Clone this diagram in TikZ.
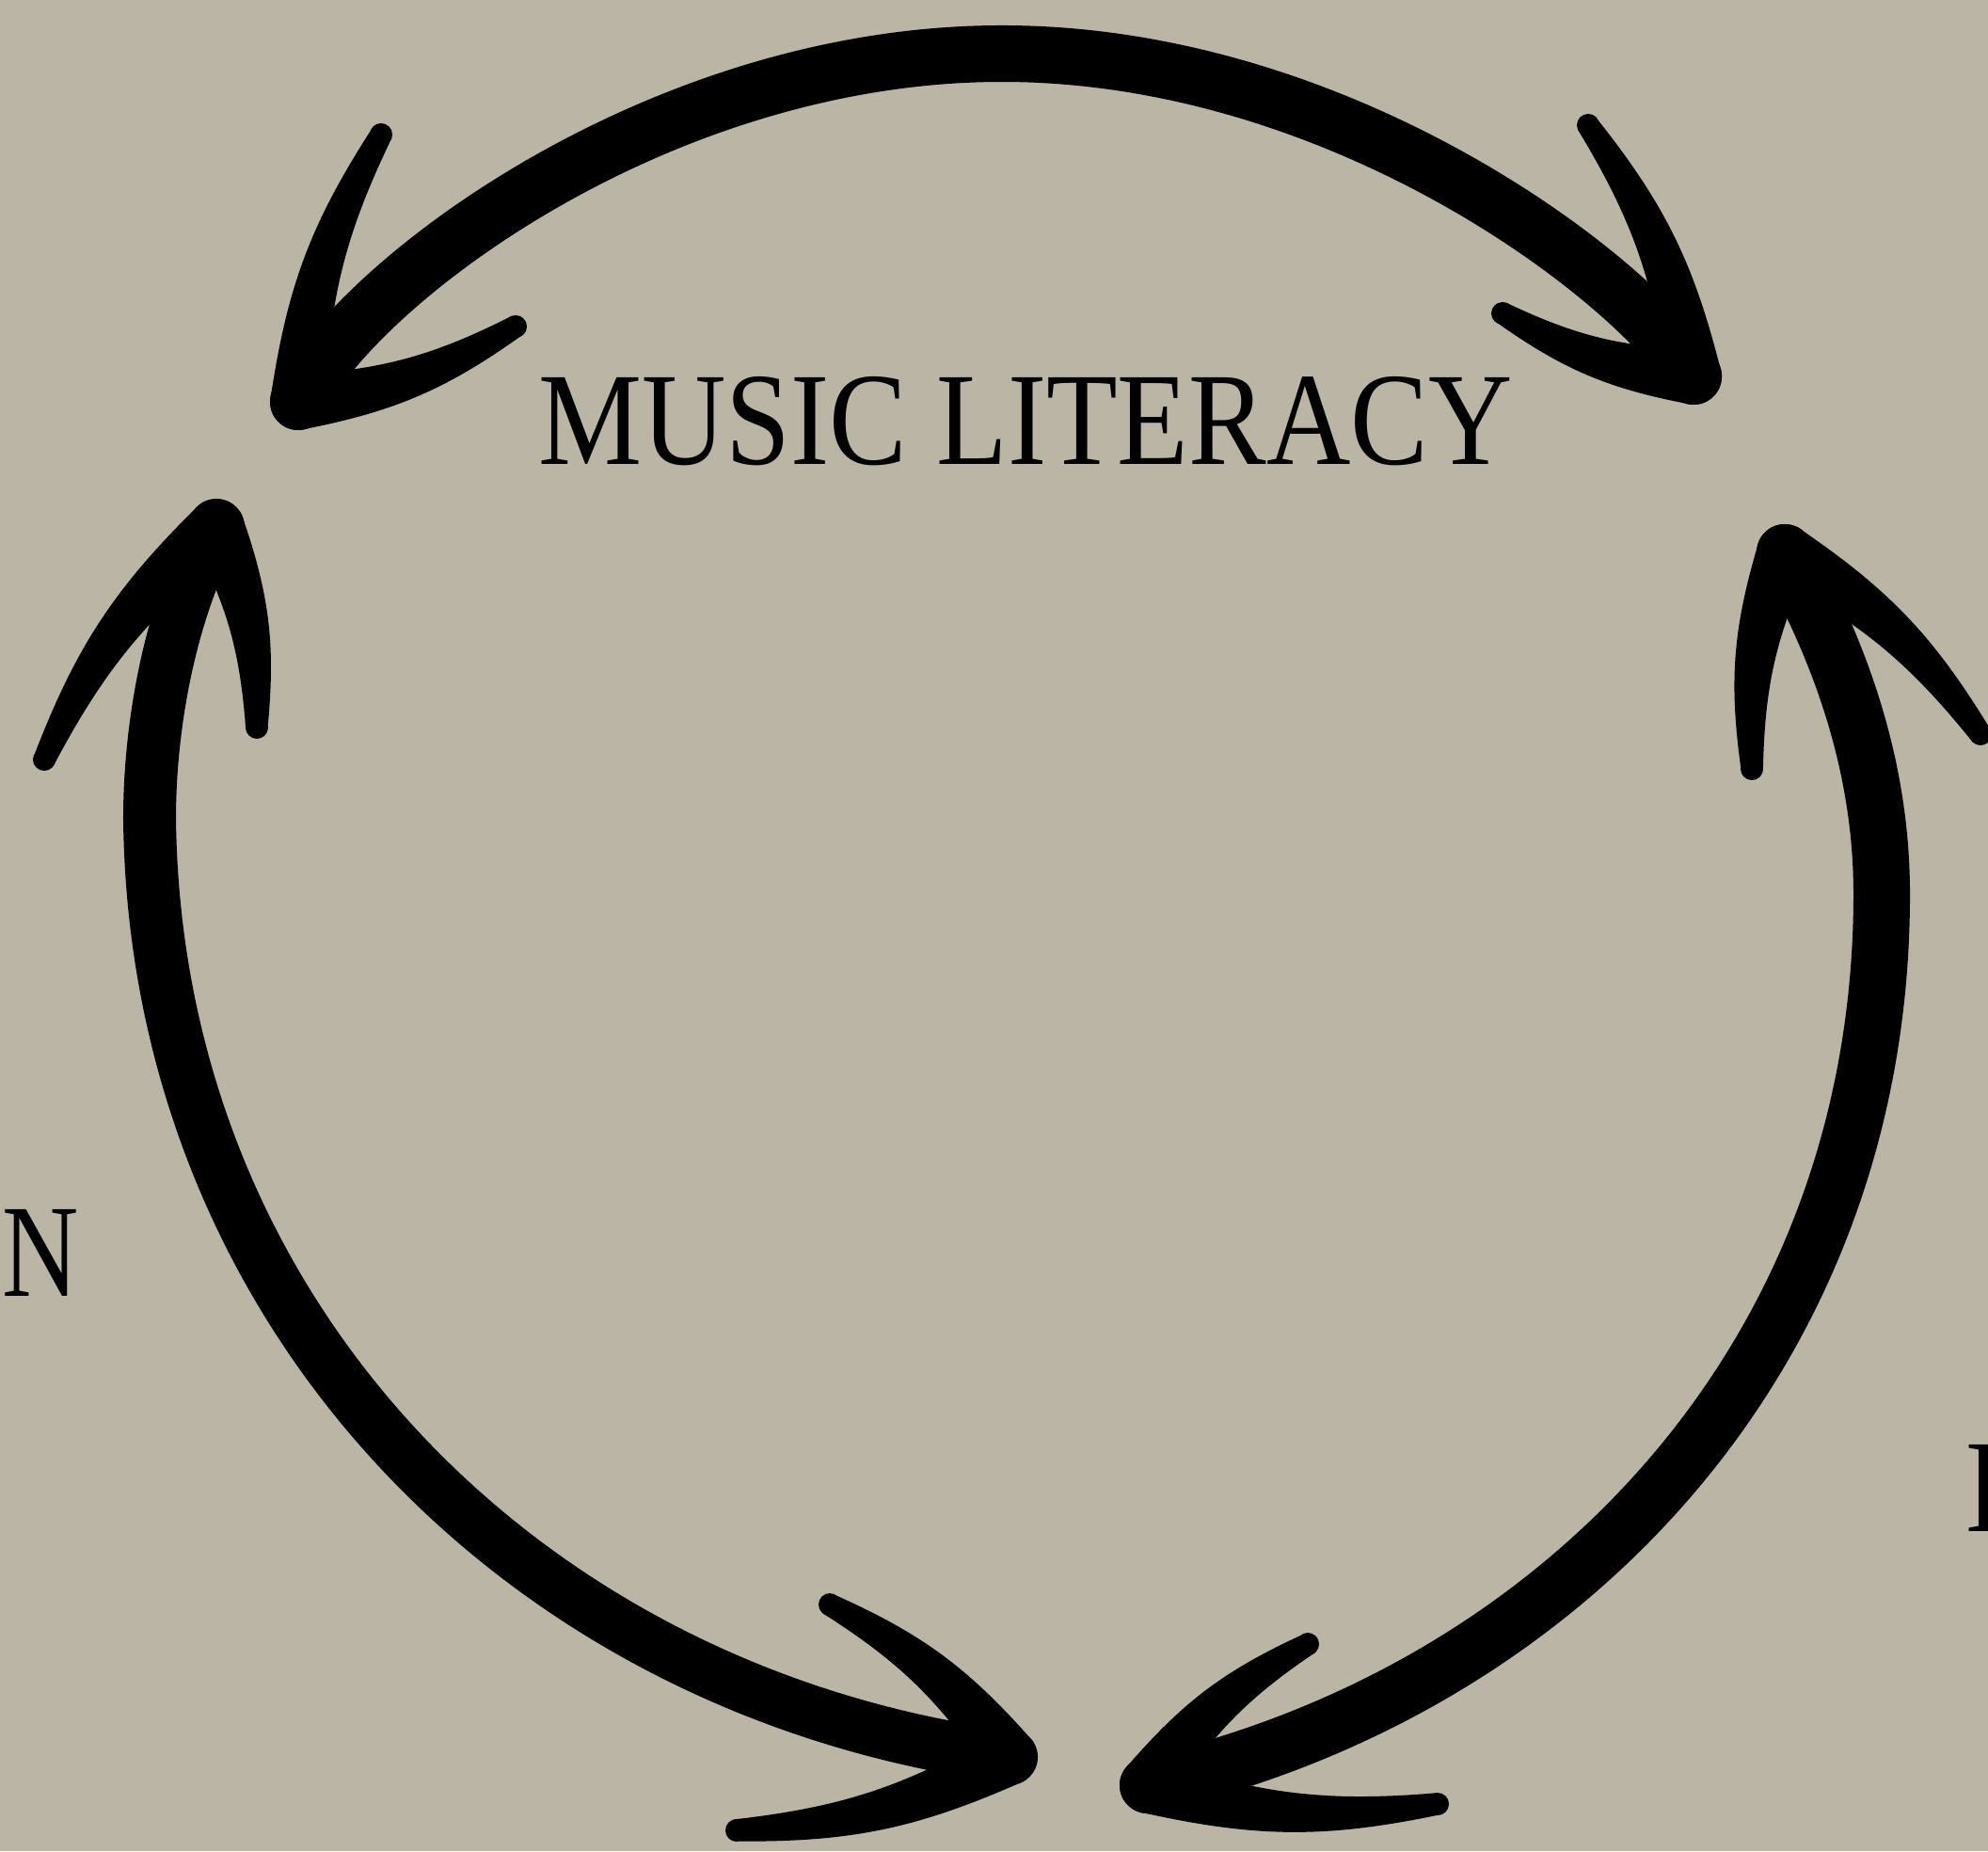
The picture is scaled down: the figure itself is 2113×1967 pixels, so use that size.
\documentclass[tikz,border=0pt]{standalone}
\usepackage{fontspec}
\setmainfont{Liberation Serif}
\usepackage{graphicx}
\usepackage{tikz}
\usetikzlibrary{calc}
\definecolor{PaperBeige}{HTML}{BAB5A4}
\definecolor{InkBlack}{HTML}{000000}
\tikzset{
  % Brush shaft
  shaft/.style={draw=InkBlack,line width=0.6cm,line cap=round,line join=round},
  % Labels
  lbl/.style={inner sep=0pt,text=InkBlack,font=\fontsize{40}{40}\selectfont}
}
% tapered barb from tip #1 to end #2, bowed by #3 degrees
\newcommand\barb[3]{%
  \fill[InkBlack] ($(#1)!0.3cm!90:(#2)$) to[bend left=#3] ($(#2)!0.12cm!-90:(#1)$)
    -- ($(#2)!0.12cm!90:(#1)$) to[bend right=#3] ($(#1)!0.3cm!-90:(#2)$) -- cycle;
  \fill[InkBlack] (#2) circle (0.12cm);}
\newcommand\tipblob[1]{\fill[InkBlack] (#1) circle (0.3cm);}

\begin{document}
\begin{tikzpicture}[x=0.01cm,y=-0.01cm]
  \fill[PaperBeige] (0,0) rectangle (2113,1967);
  \clip (0,0) rectangle (2113,1967);

  % arrow tips
  \coordinate (topL) at (317,427);
  \coordinate (topR) at (1800,400);
  \coordinate (leftT) at (230,560);
  \coordinate (leftB) at (1073,1867);
  \coordinate (rightT) at (1897,587);
  \coordinate (rightB) at (1220,1897);
  \coordinate (apex) at (1065,57);
  \coordinate (leftmost) at (159,870);
  \coordinate (rightmost) at (2000,950);

  % top arrow
  \draw[shaft] (topL) .. controls (380,300) and (700,57) .. (apex)
    .. controls (1430,57) and (1740,300) .. (topR);
  \tipblob{topL} \barb{topL}{405,143}{12} \barb{topL}{548,347}{-12}
  \tipblob{topR} \barb{topR}{1688,133}{-12} \barb{topR}{1597,333}{12}

  % left arrow
  \draw[shaft,line width=0.56cm] (leftT) .. controls (185,640) and (159,760) .. (leftmost)
    .. controls (165,1400) and (560,1800) .. (leftB);
  \tipblob{leftT} \barb{leftT}{47,807}{-12} \barb{leftT}{273,773}{12}
  \tipblob{leftB} \barb{leftB}{882,1705}{-12} \barb{leftB}{783,1945}{12}

  % right arrow
  \draw[shaft] (rightT) .. controls (1960,700) and (2000,820) .. (rightmost)
    .. controls (2000,1450) and (1650,1800) .. (rightB);
  \tipblob{rightT} \barb{rightT}{1862,817}{-12} \barb{rightT}{2105,780}{12}
  \tipblob{rightB} \barb{rightB}{1390,1747}{12} \barb{rightB}{1528,1917}{-12}

  % labels
  \node[lbl,anchor=base] (title) at (1090,493) {\scalebox{0.88}[1]{MUSIC LITERACY}};
  \node[lbl,anchor=base west] (leftlbl) at (2,1377) {\scalebox{0.8}[1]{N}};
  \node[lbl,anchor=base west] (rightlbl) at (2089,1627) {\scalebox{0.88}[1]{H}};
\end{tikzpicture}
\end{document}
